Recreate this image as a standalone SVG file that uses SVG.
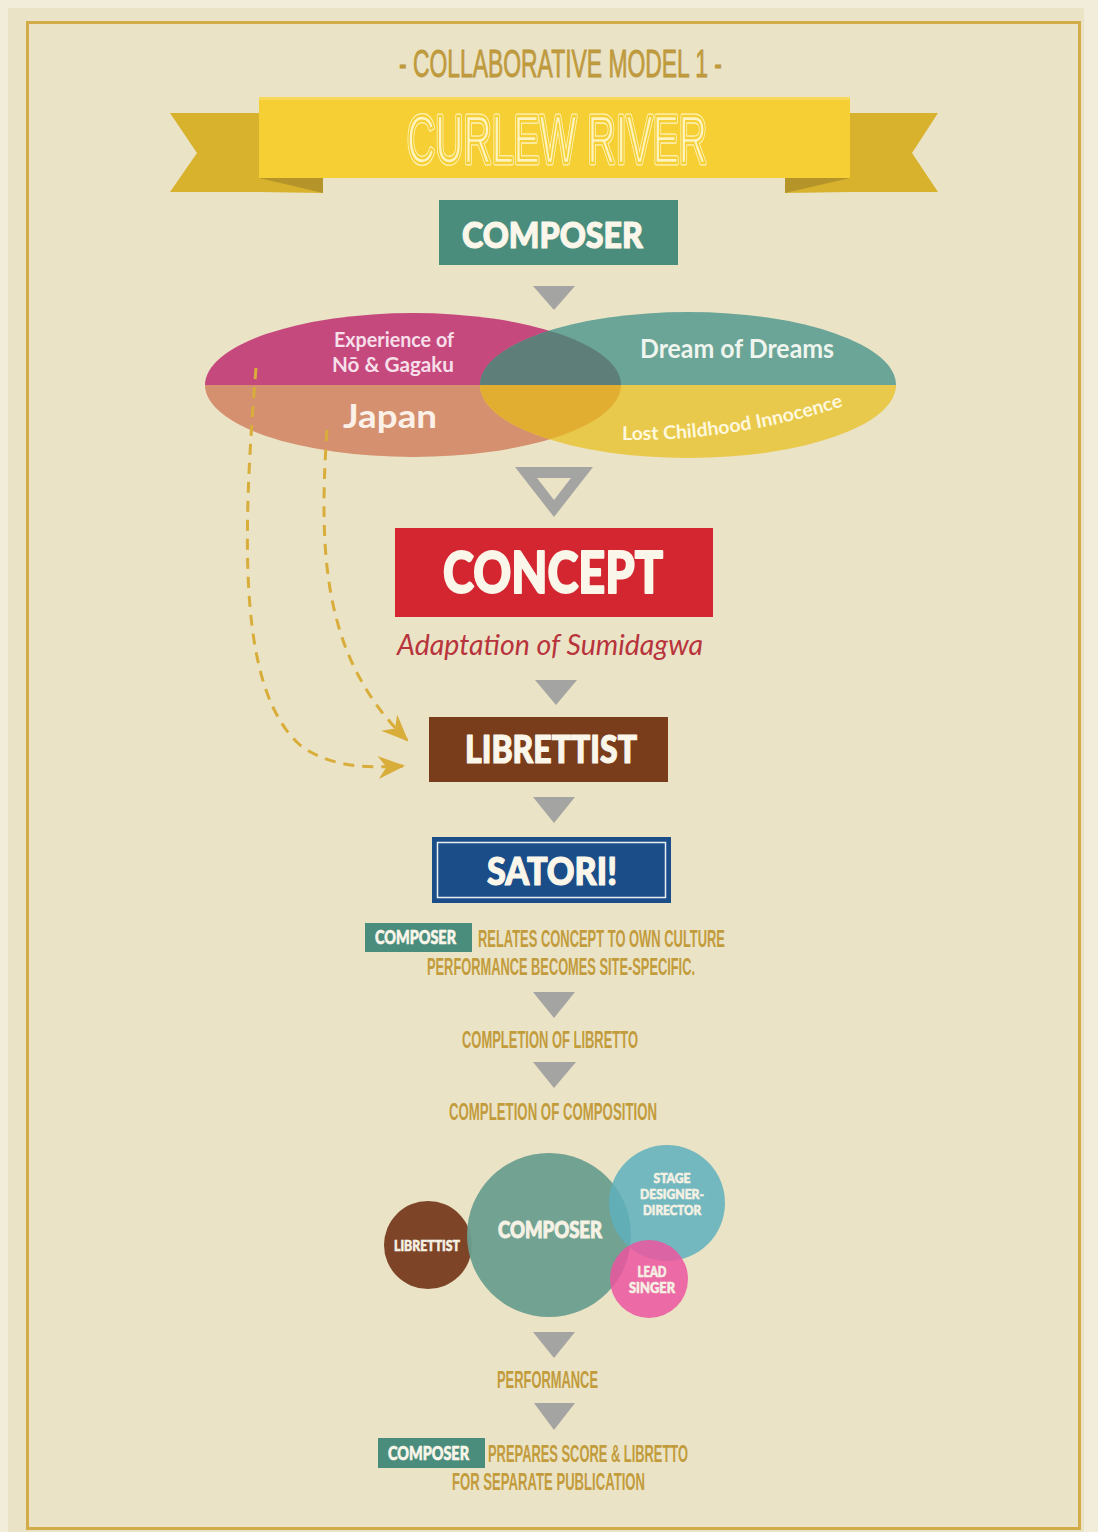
<svg xmlns="http://www.w3.org/2000/svg" width="1098" height="1532" viewBox="0 0 1098 1532">
<defs>
<style>
.cond{font-family:"Liberation Sans","DejaVu Sans",sans-serif;font-weight:700;fill:#c29c3c;font-size:24px;}
.heavy{font-family:Lato,"Liberation Sans",sans-serif;font-weight:900;fill:#fbf6ea;stroke:#fbf6ea;stroke-width:1.2px;stroke-linejoin:round;}
.geo{font-family:Lato,"Open Sans",sans-serif;font-weight:700;}
.tri{fill:#a4a4a2;}
.dash{fill:none;stroke:#d8ad3a;stroke-width:3;stroke-dasharray:11 8;}
.ctext{font-family:Lato,"Liberation Sans",sans-serif;font-weight:900;fill:#f5f1e4;stroke:#f5f1e4;stroke-width:0.6px;text-anchor:middle;}
</style>
<marker id="ah" viewBox="0 0 13 11" refX="12" refY="5.5" markerWidth="27" markerHeight="23" markerUnits="userSpaceOnUse" orient="auto">
<path d="M0,0 L13,5.5 L0,11 L4,5.5 Z" fill="#d8ad3a"/>
</marker>
<clipPath id="leftEll"><ellipse cx="413" cy="385" rx="208" ry="72"/></clipPath>
<path id="lostPath" d="M 622 440 Q 735 442 850 404"/>
</defs>

<rect x="0" y="0" width="1098" height="1532" fill="#f2eddb"/>
<rect x="8" y="8" width="1076" height="1524" fill="#ebe3c6"/>
<rect x="27.5" y="22.5" width="1052" height="1506" fill="none" stroke="#d2ac48" stroke-width="3"/>

<g id="title">
<text class="cond" x="399" y="77" style="font-size:39px;font-weight:400" textLength="323" lengthAdjust="spacingAndGlyphs" fill="#b8963c" stroke="#b8963c" stroke-width="0.8">- COLLABORATIVE MODEL 1 -</text>
</g>

<g id="ribbon">
<polygon points="170,113 259,113 259,192 170,192 197,153" fill="#d8b22d"/>
<polygon points="323,178 323,193 259,192 259,178" fill="#d8b22d"/>
<polygon points="259,178 323,178 323,193" fill="#b5952a"/>
<polygon points="938,113 850,113 850,192 938,192 912,153" fill="#d8b22d"/>
<polygon points="785,178 785,193 850,192 850,178" fill="#d8b22d"/>
<polygon points="850,178 785,178 785,193" fill="#b5952a"/>
<rect x="259" y="97" width="591" height="81" fill="#f5cf34"/>
<rect x="259" y="97" width="591" height="3" fill="#f7d857"/>
<text x="407" y="163" font-family="'Liberation Sans',sans-serif" font-size="68" textLength="300" lengthAdjust="spacingAndGlyphs" fill="#fff4bf" stroke="#fff4bf" stroke-width="5" stroke-linejoin="round">CURLEW RIVER</text>
<text x="407" y="163" font-family="'Liberation Sans',sans-serif" font-size="68" textLength="300" lengthAdjust="spacingAndGlyphs" fill="none" stroke="#f5cf34" stroke-width="2.4" stroke-linejoin="round">CURLEW RIVER</text>
</g>

<g id="composer">
<rect x="439" y="200" width="239" height="65" fill="#4b8d7c"/>
<text class="heavy" x="462" y="248" font-size="36" textLength="181" lengthAdjust="spacingAndGlyphs">COMPOSER</text>
</g>

<g id="venn">
<path d="M 205 385 A 208 72 0 0 1 621 385 Z" fill="#c6497e"/>
<path d="M 205 385 A 208 72 0 0 0 621 385 Z" fill="#d4906f"/>
<path d="M 480 385 A 208 73 0 0 1 896 385 Z" fill="#6aa597"/>
<path d="M 480 385 A 208 73 0 0 0 896 385 Z" fill="#e8c94b"/>
<g clip-path="url(#leftEll)">
<path d="M 480 385 A 208 73 0 0 1 896 385 Z" fill="#5e7f79"/>
<path d="M 480 385 A 208 73 0 0 0 896 385 Z" fill="#e2ae32"/>
</g>
<text class="geo" x="334" y="347" font-size="21" textLength="120" lengthAdjust="spacingAndGlyphs" fill="#f6dfe9">Experience of</text>
<text class="geo" x="332" y="372" font-size="21" textLength="122" lengthAdjust="spacingAndGlyphs" fill="#f6dfe9">Nō &amp; Gagaku</text>
<text class="geo" x="640" y="358" font-size="26" textLength="194" lengthAdjust="spacingAndGlyphs" fill="#eff5ee">Dream of Dreams</text>
<text class="geo" x="343" y="428" font-size="33" textLength="94" lengthAdjust="spacingAndGlyphs" fill="#fcf1e8">Japan</text>
<text class="geo" font-size="19" fill="#fff8dc"><textPath href="#lostPath" textLength="225" lengthAdjust="spacingAndGlyphs">Lost Childhood Innocence</textPath></text>
</g>

<g id="concept">
<rect x="395" y="528" width="318" height="89" fill="#d42631"/>
<text class="heavy" x="443" y="593" font-size="58" textLength="220" lengthAdjust="spacingAndGlyphs" style="stroke-width:2px">CONCEPT</text>
<text x="397" y="655" font-family="Lato,'Open Sans',sans-serif" font-style="italic" font-size="29" textLength="306" lengthAdjust="spacingAndGlyphs" fill="#b8343c">Adaptation of Sumidagwa</text>
</g>

<g id="librettist">
<rect x="429" y="717" width="239" height="65" fill="#793d1c"/>
<text class="heavy" x="465" y="763" font-size="38" textLength="172" lengthAdjust="spacingAndGlyphs">LIBRETTIST</text>
</g>

<g id="satori">
<rect x="432" y="837" width="239" height="66" fill="#1b4d89"/>
<rect x="437.5" y="842.5" width="228" height="55" fill="none" stroke="#e9eef2" stroke-width="1.5"/>
<text class="heavy" x="487" y="885" font-size="38" textLength="130" lengthAdjust="spacingAndGlyphs">SATORI!</text>
</g>

<g id="note-culture">
<rect x="365" y="923" width="107" height="29" fill="#4b8d7c"/>
<text class="heavy" x="375" y="944" font-size="18" textLength="81" lengthAdjust="spacingAndGlyphs" style="stroke-width:0.6px">COMPOSER</text>
<text class="cond" x="478" y="947" textLength="247" lengthAdjust="spacingAndGlyphs">RELATES CONCEPT TO OWN CULTURE</text>
<text class="cond" x="427" y="975" textLength="268" lengthAdjust="spacingAndGlyphs">PERFORMANCE BECOMES SITE-SPECIFIC.</text>
</g>

<g id="completion-libretto">
<text class="cond" x="462" y="1048" textLength="176" lengthAdjust="spacingAndGlyphs">COMPLETION OF LIBRETTO</text>
</g>

<g id="completion-composition">
<text class="cond" x="449" y="1120" textLength="208" lengthAdjust="spacingAndGlyphs">COMPLETION OF COMPOSITION</text>
</g>

<g id="collaboration">
<circle cx="428" cy="1245" r="44" fill="#7d4428"/>
<circle cx="549" cy="1235" r="82" fill="#6c9e8e" fill-opacity="0.95"/>
<circle cx="667" cy="1203" r="58" fill="#5fb0bd" fill-opacity="0.85"/>
<circle cx="649" cy="1279" r="39" fill="#ec559f" fill-opacity="0.85"/>
<text class="ctext" x="427" y="1251" font-size="15" textLength="66" lengthAdjust="spacingAndGlyphs">LIBRETTIST</text>
<text class="ctext" x="550" y="1238" font-size="22" textLength="104" lengthAdjust="spacingAndGlyphs" style="stroke-width:1px">COMPOSER</text>
<text class="ctext" x="672" y="1183" font-size="14" textLength="37" lengthAdjust="spacingAndGlyphs">STAGE</text>
<text class="ctext" x="672" y="1199" font-size="14" textLength="64" lengthAdjust="spacingAndGlyphs">DESIGNER-</text>
<text class="ctext" x="672" y="1215" font-size="14" textLength="58" lengthAdjust="spacingAndGlyphs">DIRECTOR</text>
<text class="ctext" x="652" y="1277" font-size="15" textLength="29" lengthAdjust="spacingAndGlyphs">LEAD</text>
<text class="ctext" x="652" y="1293" font-size="15" textLength="46" lengthAdjust="spacingAndGlyphs">SINGER</text>
</g>

<g id="performance">
<text class="cond" x="497" y="1388" textLength="101" lengthAdjust="spacingAndGlyphs">PERFORMANCE</text>
</g>

<g id="note-publication">
<rect x="378" y="1438" width="107" height="30" fill="#4b8d7c"/>
<text class="heavy" x="388" y="1460" font-size="18" textLength="81" lengthAdjust="spacingAndGlyphs" style="stroke-width:0.6px">COMPOSER</text>
<text class="cond" x="488" y="1462" textLength="200" lengthAdjust="spacingAndGlyphs">PREPARES SCORE &amp; LIBRETTO</text>
<text class="cond" x="452" y="1490" textLength="193" lengthAdjust="spacingAndGlyphs">FOR SEPARATE PUBLICATION</text>
</g>

<g id="connectors">
<polygon class="tri" points="533,286 575,286 554,310"/>
<path class="tri" fill-rule="evenodd" d="M515,467 L593,467 L554,517 Z M537,478 L571,478 L554,500 Z"/>
<polygon class="tri" points="535,680 577,680 556,705"/>
<polygon class="tri" points="533,797 575,797 554,823"/>
<polygon class="tri" points="533,992 575,992 554,1018"/>
<polygon class="tri" points="533,1062 576,1062 554,1088"/>
<polygon class="tri" points="533,1332 575,1332 554,1358"/>
<polygon class="tri" points="534,1403 575,1403 554,1430"/>
<path class="dash" d="M 256 368 C 242 540 238 690 300 745 C 330 768 370 768 403 766" marker-end="url(#ah)"/>
<path class="dash" d="M 327 430 C 318 560 325 660 407 740" marker-end="url(#ah)"/>
</g>
</svg>
